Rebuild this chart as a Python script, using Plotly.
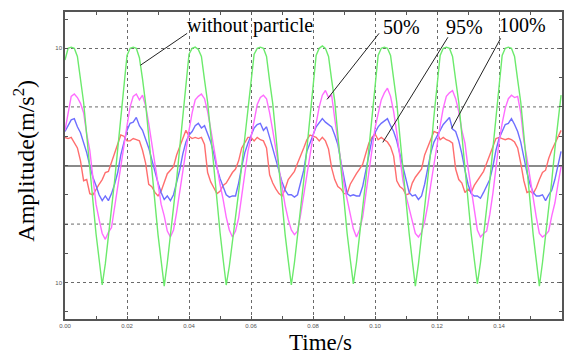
import plotly.graph_objects as go

# sampling instants (s), 1 ms step
time_s = [round(i * 0.001, 3) for i in range(161)]

without_particle = [
    9.0, 10.0, 10.1, 10.0, 9.3, 7.3, 5.4, 2.6, -0.3, -3.2, -5.8, -8.0, -10.2, -8.4, -6.1, -3.8, -1.3, 1.4, 4.2, 6.8,
    9.4, 10.0, 10.1, 10.0, 9.2, 7.4, 5.3, 2.5, -0.4, -3.3, -5.9, -8.1, -10.3, -8.3, -6.0, -3.7, -1.2, 1.5, 4.3, 6.9,
    9.5, 10.0, 10.1, 9.9, 9.3, 7.3, 5.4, 2.7, -0.2, -3.1, -5.7, -8.0, -10.2, -8.6, -6.6, -4.5, -2.3, 0.0, 2.4, 4.8, 7.2,
    9.5, 10.0, 10.1, 10.0, 9.3, 7.2, 5.3, 2.6, -0.3, -3.2, -5.9, -8.1, -10.2, -8.3, -6.1, -3.8, -1.3, 1.4, 4.1, 6.8,
    9.4, 10.0, 10.2, 10.0, 9.3, 7.3, 5.5, 2.6, -0.3, -3.2, -5.8, -8.0, -10.1, -8.3, -6.1, -3.9, -1.3, 1.4, 4.2, 6.8,
    9.4, 10.0, 10.1, 10.0, 9.4, 7.4, 5.4, 2.5, -0.3, -3.3, -5.8, -8.1, -10.3, -8.4, -6.1, -3.8, -1.4, 1.3, 4.2, 6.8,
    9.4, 10.0, 10.1, 10.0, 9.3, 7.3, 5.4, 2.6, -0.3, -3.2, -5.8, -8.0, -10.1, -8.3, -6.1, -3.8, -1.3, 1.4, 4.2, 6.8,
    9.4, 10.0, 10.1, 10.0, 9.3, 7.3, 5.4, 2.6, -0.4, -3.2, -5.9, -8.1, -10.3, -8.3, -6.0, -3.8, -1.3, 1.4, 4.0, 6.0,
]

fill_50 = [
    3.0, 4.5, 5.9, 6.1, 5.8, 5.3, 4.5, 2.7, 1.3, -1.0, -3.3, -4.6, -5.8, -6.3, -5.7, -5.3, -3.5, -1.7, 0.0, 1.8,
    3.4, 5.0, 5.9, 6.1, 5.6, 6.0, 5.1, 3.6, 1.9, 0.2, -1.8, -3.3, -4.3, -5.6, -6.1, -5.5, -4.0, -2.2, -0.2, 1.6,
    3.0, 4.5, 5.6, 5.9, 6.1, 5.7, 4.6, 3.1, 1.4, 0.1, -1.6, -2.9, -4.4, -5.5, -6.1, -5.6, -4.5, -2.6, -0.8, 1.2, 2.4,
    3.8, 5.2, 5.8, 6.0, 5.7, 4.5, 3.0, 1.4, -0.4, -2.0, -3.4, -4.6, -5.5, -5.9, -5.6, -4.2, -2.6, -0.9, 0.8, 2.5,
    3.6, 5.0, 6.0, 6.4, 5.8, 6.0, 4.0, 2.2, 0.3, -1.6, -2.9, -4.1, -5.4, -6.1, -5.5, -4.4, -2.4, -0.4, 1.6, 3.2,
    4.4, 5.6, 6.2, 6.6, 5.9, 4.6, 2.8, 0.9, -1.3, -2.6, -3.6, -4.8, -5.8, -6.1, -5.7, -4.8, -3.4, -1.6, 0.2, 2.0,
    3.4, 4.9, 5.9, 6.2, 6.4, 5.7, 4.6, 3.0, 1.9, -0.2, -2.0, -3.9, -5.5, -6.1, -5.8, -5.6, -4.2, -2.4, -0.2, 2.0,
    3.6, 4.9, 5.7, 6.0, 5.8, 5.9, 4.5, 2.1, 0.6, -1.2, -2.6, -4.4, -5.8, -6.1, -5.9, -5.6, -4.3, -3.2, -1.6, -0.1,
]

fill_100 = [
    2.9, 3.4, 3.9, 4.0, 3.3, 2.8, 2.0, 1.1, 0.0, -1.0, -1.7, -2.5, -3.0, -2.6, -3.0, -2.4, -1.6, -0.6, 0.9, 2.0,
    3.0, 3.6, 3.7, 4.1, 3.4, 3.0, 2.3, 1.5, 0.5, -0.6, -1.5, -2.3, -2.9, -2.6, -3.0, -2.5, -1.5, -0.4, 1.0, 2.0,
    2.6, 2.9, 3.4, 3.6, 3.2, 3.4, 2.7, 2.0, 1.0, -0.2, -1.1, -1.8, -2.5, -2.7, -2.6, -2.6, -1.5, -0.1, 1.1, 1.9, 2.5,
    3.2, 3.5, 3.6, 3.0, 3.3, 2.4, 1.4, 0.5, -0.4, -1.4, -2.1, -2.5, -2.5, -2.7, -2.5, -1.5, -0.4, 1.2, 2.0, 2.6,
    3.3, 3.7, 4.0, 3.7, 3.5, 3.3, 2.6, 1.8, 0.3, -1.2, -2.4, -2.6, -2.5, -2.6, -2.6, -1.8, -0.5, 1.0, 2.2, 2.8,
    3.3, 3.6, 3.8, 4.0, 3.4, 2.9, 2.1, 1.0, -0.1, -1.2, -2.3, -2.6, -2.5, -2.9, -2.6, -1.6, -0.3, 1.1, 2.0, 2.5,
    3.0, 3.5, 3.8, 4.1, 3.1, 2.9, 2.1, 1.0, -0.4, -1.6, -2.4, -2.6, -2.6, -2.8, -2.3, -1.8, -1.2, -0.1, 1.3, 2.3,
    2.9, 3.5, 3.6, 4.0, 3.5, 2.9, 2.0, 0.6, -0.6, -1.6, -2.3, -2.6, -2.6, -2.5, -3.0, -2.5, -2.1, -1.2, 0.0, 1.2,
]

fill_95 = [
    2.4, 2.3, 2.4, 2.0, 1.5, 0.4, -1.3, -1.2, -2.4, -2.5, -2.0, -1.6, -1.2, -0.6, -0.5, 0.3, 1.0, 1.8, 2.6, 2.5,
    2.1, 2.1, 2.3, 2.2, 2.1, 1.3, 0.2, -1.6, -1.8, -2.3, -2.6, -2.2, -1.5, -0.7, -0.4, -0.1, 0.9, 1.6, 2.4, 3.0,
    2.5, 2.3, 2.4, 2.3, 2.4, 1.8, -0.6, -1.4, -1.9, -2.4, -2.2, -1.7, -1.5, -1.0, -0.6, -0.3, 0.4, 1.5, 2.0, 2.4, 2.4,
    2.1, 2.4, 2.2, 2.1, 1.5, -0.8, -1.5, -2.0, -2.4, -2.6, -2.0, -1.2, -0.8, -0.5, 0.2, 0.8, 1.5, 2.2, 2.6, 2.5,
    2.4, 2.1, 2.4, 2.1, 1.4, -0.2, -1.2, -1.8, -2.0, -2.4, -2.4, -1.6, -1.1, -0.7, -0.3, 0.1, 1.0, 1.9, 2.4, 2.7,
    2.2, 2.4, 2.2, 2.0, 1.6, 0.8, -1.3, -1.8, -2.0, -2.5, -2.4, -1.5, -1.0, -0.6, -0.3, 0.9, 1.6, 2.3, 2.9, 2.8,
    2.2, 2.4, 2.2, 2.1, 1.9, -0.3, -1.2, -1.5, -2.3, -2.0, -2.3, -1.7, -1.3, -0.9, -0.5, 0.2, 1.0, 1.6, 2.3, 2.4,
    2.3, 2.2, 2.3, 2.2, 2.0, 1.5, 0.2, -1.3, -2.3, -2.2, -2.4, -1.9, -1.2, -0.6, -0.4, 0.6, 1.3, 1.9, 2.5, 3.0,
]

for arr in (without_particle, fill_50, fill_100, fill_95):
    assert len(arr) == len(time_s), len(arr)

x_tick_vals = [0.00, 0.02, 0.04, 0.06, 0.08, 0.10, 0.12, 0.14]
x_tick_text = ["0.00", "0.02", "0.04", "0.06", "0.08", "0.10", "0.12", "0.14"]
y_tick_vals = [-10, 10]
y_tick_text = ["10", "10"]
y_extra_grid = [-5, 5]

series = [
    ("95%", fill_95, "#ff6e6e"),
    ("100%", fill_100, "#6e6eff"),
    ("50%", fill_50, "#ff6cff"),
    ("without particle", without_particle, "#6cea6c"),
]

fig = go.Figure()

grid_col = "#6a6a6a"
for gy in y_extra_grid:
    fig.add_shape(type="line", xref="paper", yref="y", x0=0, x1=1, y0=gy, y1=gy,
                  line=dict(color=grid_col, width=1, dash="dot"), layer="below")

for name, vals, col in series:
    fig.add_trace(go.Scatter(x=time_s, y=vals, mode="lines", name=name,
                             line=dict(color=col, width=1.4), showlegend=False))

serif = "Liberation Serif, Times New Roman, serif"

# label callouts: (text, text_x, text_y, line_start, line_end)
callouts = [
    ("without particle", 0.0597, 11.95, (0.0394, 11.28), (0.0243, 8.55)),
    ("50%", 0.1086, 11.8, (0.1013, 11.28), (0.0845, 5.64)),
    ("95%", 0.1290, 11.8, (0.1235, 10.94), (0.1025, 1.97)),
    ("100%", 0.1476, 11.95, (0.1405, 10.85), (0.1247, 3.16)),
]
for txt, tx, ty, p0, p1 in callouts:
    fig.add_annotation(x=tx, y=ty, xref="x", yref="y", text=txt, showarrow=False,
                       font=dict(family=serif, size=20, color="black"),
                       xanchor="center", yanchor="middle")
    fig.add_shape(type="line", xref="x", yref="y", x0=p0[0], y0=p0[1], x1=p1[0], y1=p1[1],
                  line=dict(color="#222222", width=1))

fig.add_annotation(x=0.514, y=-0.078, xref="paper", yref="paper", text="Time/s",
                   showarrow=False, font=dict(family=serif, size=23, color="black"),
                   xanchor="center", yanchor="middle")
fig.add_annotation(x=-0.083, y=0.515, xref="paper", yref="paper",
                   text="Amplitude(m/s<sup>2</sup>)", textangle=-90,
                   showarrow=False, font=dict(family=serif, size=24, color="black"),
                   xanchor="center", yanchor="middle")

tick_font = dict(family="Liberation Sans, Arial, sans-serif", size=6, color="#555555")

fig.update_layout(
    width=567, height=356,
    margin=dict(l=65, r=5, t=12, b=37, autoexpand=False),
    paper_bgcolor="white", plot_bgcolor="white",
    xaxis=dict(range=[0, 0.1603], tickmode="array", tickvals=x_tick_vals, ticktext=x_tick_text,
               showgrid=True, gridcolor=grid_col, griddash="dot", gridwidth=1, automargin=False,
               zeroline=False, showline=True, linecolor="#555555", linewidth=1.5, mirror="ticks",
               ticks="inside", ticklen=3, tickcolor="#555555", tickfont=tick_font,
               minor=dict(tickmode="linear", tick0=0, dtick=0.01, ticks="inside", ticklen=3,
                          tickcolor="#555555", showgrid=False)),
    yaxis=dict(range=[-13.1, 13.1], tickmode="array", tickvals=y_tick_vals, ticktext=y_tick_text,
               showgrid=True, gridcolor=grid_col, griddash="dot", gridwidth=1, automargin=False,
               zeroline=True, zerolinecolor="#8a8a8a", zerolinewidth=2,
               showline=True, linecolor="#555555", linewidth=1.5, mirror="ticks",
               ticks="inside", ticklen=3, tickcolor="#555555", tickfont=tick_font,
               minor=dict(tickmode="linear", tick0=0, dtick=2.5, ticks="inside", ticklen=3,
                          tickcolor="#555555", showgrid=False)),
)

fig.write_html("out.html", config={"displayModeBar": False},
               post_script="document.body.style.margin='0';document.body.style.padding='0';")
